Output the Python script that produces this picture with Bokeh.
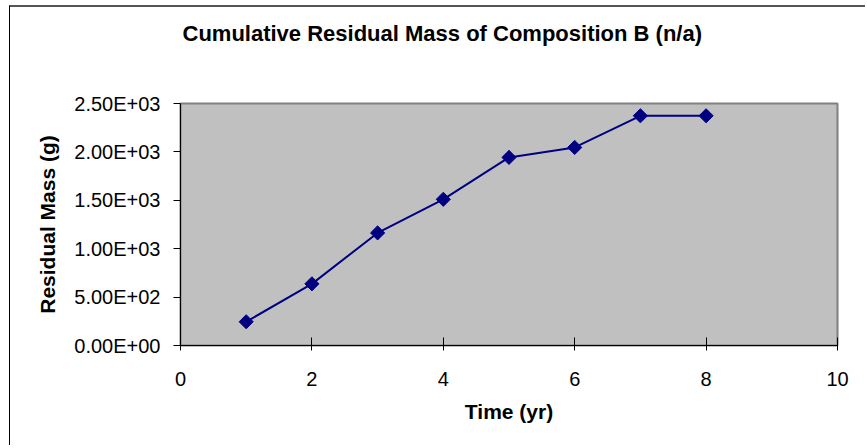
import math
from bokeh.plotting import figure
from bokeh.models import Range1d, FixedTicker
from bokeh.embed import file_html
from bokeh.resources import INLINE

# ---- data ----
time_yr = [1, 2, 3, 4, 5, 6, 7, 8]
residual_mass_g = [245, 637, 1163, 1510, 1943, 2046, 2373, 2373]
x_ticks = [0, 2, 4, 6, 8, 10]
y_ticks = [0, 500, 1000, 1500, 2000, 2500]
y_tick_labels = ["0.00E+00", "5.00E+02", "1.00E+03", "1.50E+03", "2.00E+03", "2.50E+03"]
title_text = "Cumulative Residual Mass of Composition B (n/a)"
x_label = "Time (yr)"
y_label = "Residual Mass (g)"

FONT = "Liberation Sans"
NAVY = "#000080"

p = figure(width=856, height=440, output_backend="svg", toolbar_location=None,
           x_range=Range1d(0, 10), y_range=Range1d(0, 2500),
           min_border_left=170, min_border_right=29,
           min_border_top=96, min_border_bottom=102,
           styles={"border-top": "2px solid #555555", "border-left": "1px solid #000000",
                   "margin-left": "9px", "margin-top": "5px"})

p.background_fill_color = "#C0C0C0"
p.border_fill_color = "white"
p.outline_line_color = "#808080"
p.outline_line_width = 2
p.grid.visible = False

# title: trailing blank lines lift it well above the plot area, as in the original
p.title.text = title_text + "\n \n "
p.title.align = "left"
p.title.offset = 2
p.title.standoff = 16
p.title.vertical_align = "bottom"
p.title.text_font = FONT
p.title.text_font_size = "22px"
p.title.text_font_style = "bold"
p.title.text_color = "black"

# axes
p.xaxis.ticker = FixedTicker(ticks=x_ticks)
p.yaxis.ticker = FixedTicker(ticks=y_ticks)
p.yaxis.major_label_overrides = {t: l for t, l in zip(y_ticks, y_tick_labels)}
for ax in (p.xaxis, p.yaxis):
    ax.axis_line_color = "black"
    ax.axis_line_width = 1
    ax.major_tick_line_color = "black"
    ax.minor_tick_line_color = None
    ax.major_label_text_font = FONT
    ax.major_label_text_font_size = "20px"
    ax.major_label_text_color = "black"
    ax.axis_label_text_font = FONT
    ax.axis_label_text_font_size = "21px"
    ax.axis_label_text_font_style = "bold"
    ax.axis_label_text_color = "black"

p.xaxis.major_tick_in = 8
p.xaxis.major_tick_out = 5
p.xaxis.major_label_standoff = 21
p.xaxis.axis_label = x_label
p.xaxis.axis_label_standoff = 11

p.yaxis.major_tick_in = 0
p.yaxis.major_tick_out = 7
p.yaxis.major_label_standoff = 13
p.yaxis.axis_label = y_label
p.yaxis.axis_label_standoff = 12

# series
p.line(time_yr, residual_mass_g, line_color=NAVY, line_width=2)
p.scatter(time_yr, residual_mass_g, marker="square", size=10, angle=math.pi / 4,
          fill_color=NAVY, line_color=NAVY)

open("out.html", "w").write(file_html(p, INLINE))
